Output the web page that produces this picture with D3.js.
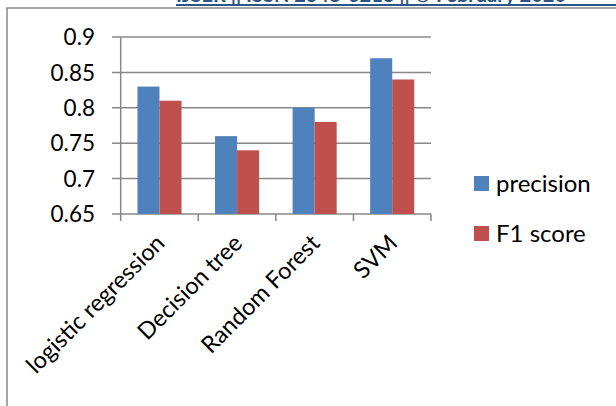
<!DOCTYPE html>
<html>
<head>
<meta charset="utf-8">
<script src="https://cdn.jsdelivr.net/npm/d3@7"></script>
<style>
  html, body { margin: 0; padding: 0; background: #fff; }
  svg { display: block; }
  text { font-family: Lato, "Open Sans", sans-serif; }
</style>
</head>
<body>
<svg id="chart" width="616" height="406"></svg>
<script>
const categories = ["logistic regression", "Decision tree", "Random Forest", "SVM"];
const seriesNames = ["precision", "F1 score"];
const precision = [0.83, 0.76, 0.80, 0.87];
const f1score = [0.81, 0.74, 0.78, 0.84];
const yTicks = [0.65, 0.7, 0.75, 0.8, 0.85, 0.9];
const yTickLabels = ["0.65", "0.7", "0.75", "0.8", "0.85", "0.9"];
const colors = ["#4F81BD", "#C0504D"];
const headerText = "IJSER || ISSN 2348-6218 || © February 2020";

const seriesValues = [precision, f1score];
const svg = d3.select("#chart");
const gray = "#888888";

// header (clipped at top, as in the source page)
svg.append("text")
  .attr("x", 176).attr("y", 2)
  .attr("font-size", 20).attr("font-weight", "bold")
  .attr("fill", "#2A5586")
  .text(headerText);
svg.append("line")
  .attr("x1", 176).attr("x2", 616).attr("y1", 5).attr("y2", 5)
  .attr("stroke", "#2A5586").attr("stroke-width", 2);

// chart frame
svg.append("path")
  .attr("d", "M7,406 L7,8 L616,8")
  .attr("fill", "none").attr("stroke", gray).attr("stroke-width", 1.5);

const x0 = d3.scaleBand().domain(categories).range([120.7, 431]).padding(0);
const x1 = d3.scaleBand().domain(seriesNames).range([0, x0.bandwidth()]).paddingInner(0).paddingOuter(0.76);
const y = d3.scaleLinear().domain([0.65, 0.9]).range([214, 37]);

// gridlines
svg.append("g").selectAll("line").data(yTicks).join("line")
  .attr("x1", 112).attr("x2", 431)
  .attr("y1", d => y(d)).attr("y2", d => y(d))
  .attr("stroke", gray).attr("stroke-width", 1.5);

// y axis line
svg.append("line")
  .attr("x1", 120.7).attr("x2", 120.7).attr("y1", y(0.9)).attr("y2", y(0.65))
  .attr("stroke", gray).attr("stroke-width", 1.5);

// y labels
svg.append("g").selectAll("text").data(yTicks).join("text")
  .attr("x", 95).attr("y", d => y(d))
  .attr("dy", "0.36em")
  .attr("text-anchor", "end")
  .attr("font-size", 22.5)
  .attr("fill", "#000")
  .text((d, i) => yTickLabels[i]);

// bars
const groups = svg.append("g").selectAll("g").data(categories).join("g")
  .attr("transform", d => `translate(${x0(d)},0)`);
groups.selectAll("rect")
  .data((d, ci) => seriesNames.map((s, si) => ({ s, v: seriesValues[si][ci], si })))
  .join("rect")
  .attr("x", d => x1(d.s))
  .attr("width", x1.bandwidth())
  .attr("y", d => y(d.v))
  .attr("height", d => y(0.65) - y(d.v))
  .attr("fill", d => colors[d.si]);

// x axis ticks
const boundaries = categories.map(c => x0(c)).concat([x0.range()[1]]);
svg.append("g").selectAll("line").data(boundaries).join("line")
  .attr("x1", d => d).attr("x2", d => d)
  .attr("y1", y(0.65)).attr("y2", y(0.65) + 7)
  .attr("stroke", gray).attr("stroke-width", 1.5);

// category labels
svg.append("g").selectAll("text").data(categories).join("text")
  .attr("transform", d => `translate(${x0(d) + x0.bandwidth() / 2 - 5},${y(0.65) + 19}) rotate(-45)`)
  .attr("dy", "0.7em")
  .attr("text-anchor", "end")
  .attr("font-size", 23.5)
  .attr("fill", "#000")
  .text(d => d);

// legend
const legend = svg.append("g").selectAll("g").data(seriesNames).join("g")
  .attr("transform", (d, i) => `translate(474,${176 + i * 50})`);
legend.append("rect")
  .attr("width", 15).attr("height", 15)
  .attr("fill", (d, i) => colors[i]);
legend.append("text")
  .attr("x", 22).attr("y", 15.5)
  .attr("font-size", 24)
  .attr("fill", "#000")
  .text(d => d);
</script>
</body>
</html>
